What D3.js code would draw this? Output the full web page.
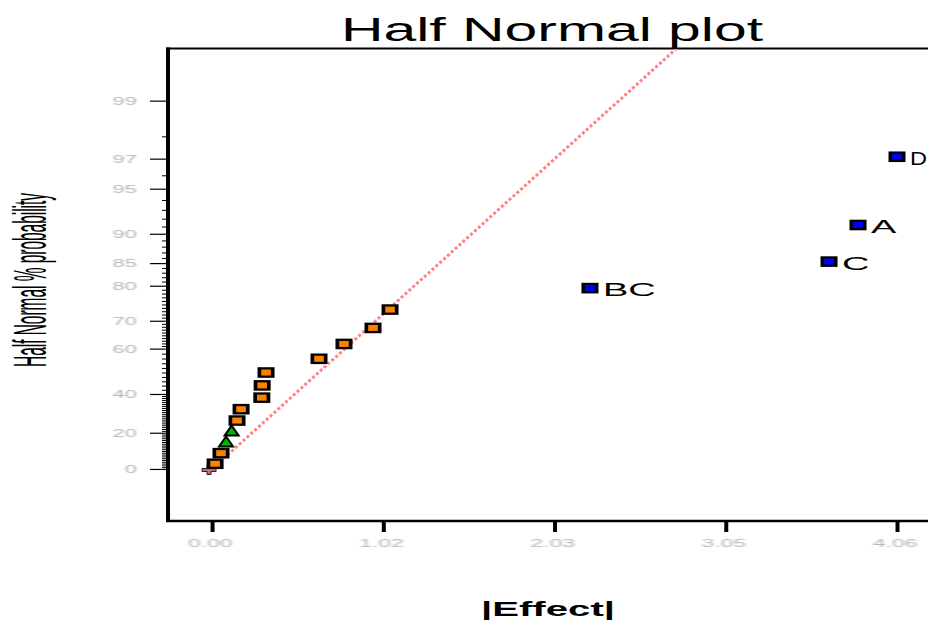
<!DOCTYPE html>
<html>
<head>
<meta charset="utf-8">
<script src="https://cdn.jsdelivr.net/npm/d3@7"></script>
<style>
  html, body { margin: 0; padding: 0; background: #fff; }
  svg { display: block; }
</style>
</head>
<body>
<script>
// Half-normal plot of effect magnitudes (ranked ascending)
const effects = [0.018, 0.053, 0.083, 0.116, 0.148, 0.172, 0.295, 0.297, 0.320, 0.634, 0.782, 0.954, 1.055, 2.240, 3.657, 3.829, 4.060];
const probabilities = [2.9, 8.8, 14.7, 20.6, 26.5, 32.4, 38.2, 44.1, 50.0, 55.9, 61.8, 67.6, 73.5, 79.4, 85.3, 91.2, 97.1];
const markerKinds = ["square", "square", "triangle", "triangle", "square", "square", "square", "square", "square",
                     "square", "square", "square", "square", "square", "square", "square", "square"];
const markerGroups = ["pos", "pos", "err", "err", "pos", "pos", "pos", "pos", "pos",
                      "pos", "pos", "pos", "pos", "neg", "neg", "neg", "neg"];
const effectLabels = ["", "", "", "", "", "", "", "", "", "", "", "", "", "BC", "C", "A", "D"];

// origin marker
const originEffect = [0];
const originProb = [0];

// reference line through the small effects
const lineEffect = [0, 2.76];
const lineProb = [0, 99.68];

// axes
const xTickValues = [0, 1.015, 2.03, 3.045, 4.06];
const xTickLabels = ["0.00", "1.02", "2.03", "3.05", "4.06"];
const yMajorProbs = [0, 20, 40, 60, 70, 80, 85, 90, 95, 97, 99];
const yMajorLabels = ["0", "20", "40", "60", "70", "80", "85", "90", "95", "97", "99"];
const yMinorProbs = [
  1,2,3,4,5,6,7,8,9,10,11,12,13,14,15,16,17,18,19,21,22,23,24,25,26,27,28,29,30,31,32,33,34,35,36,37,38,39,
  42,44,46,48,50,52,54,56,58,
  61,62,63,64,65,66,67,68,69,71,72,73,74,75,76,77,78,79,
  81,82,83,84,86,87,88,89,91,92,93,94,96,98
];

const groupColors = { pos: "#ff8000", neg: "#0000ff", err: "#00b400" };

// inverse standard normal CDF (Acklam)
function invNorm(p) {
  const a = [-3.969683028665376e+01, 2.209460984245205e+02, -2.759285104469687e+02, 1.383577518672690e+02, -3.066479806614716e+01, 2.506628277459239e+00];
  const b = [-5.447609879822406e+01, 1.615858368580409e+02, -1.556989798598866e+02, 6.680131188771972e+01, -1.328068155288572e+01];
  const c = [-7.784894002430293e-03, -3.223964580411365e-01, -2.400758277161838e+00, -2.549732539343734e+00, 4.374664141464968e+00, 2.938163982698783e+00];
  const d = [7.784695709041462e-03, 3.224671290700398e-01, 2.445134137142996e+00, 3.754408661907416e+00];
  const pl = 0.02425, ph = 1 - pl;
  let q, r;
  if (p < pl) {
    q = Math.sqrt(-2 * Math.log(p));
    return (((((c[0]*q+c[1])*q+c[2])*q+c[3])*q+c[4])*q+c[5]) / ((((d[0]*q+d[1])*q+d[2])*q+d[3])*q+1);
  }
  if (p <= ph) {
    q = p - 0.5; r = q * q;
    return (((((a[0]*r+a[1])*r+a[2])*r+a[3])*r+a[4])*r+a[5])*q / (((((b[0]*r+b[1])*r+b[2])*r+b[3])*r+b[4])*r+1);
  }
  q = Math.sqrt(-2 * Math.log(1 - p));
  return -(((((c[0]*q+c[1])*q+c[2])*q+c[3])*q+c[4])*q+c[5]) / ((((d[0]*q+d[1])*q+d[2])*q+d[3])*q+1);
}
// half-normal quantile of a percent probability
const hnz = pct => pct <= 0 ? 0 : invNorm(0.5 + pct / 200);

const W = 928, H = 621;
const svg = d3.select("body").append("svg").attr("width", W).attr("height", H)
  .style("font-family", "'Liberation Sans', Arial, sans-serif");

const defs = svg.append("defs");
defs.append("filter").attr("id", "soft").append("feGaussianBlur").attr("stdDeviation", 0.6);
defs.append("clipPath").attr("id", "plotClip").append("rect")
  .attr("x", 170).attr("y", 49).attr("width", 770).attr("height", 471);

const x = d3.scaleLinear().domain([-0.273, 4.303]).range([166, 938]);
const yz = d3.scaleLinear().domain([-0.357, 2.944]).range([520, 48]);
const y = pct => yz(hnz(pct));

// title
svg.append("text").attr("x", 552).attr("y", 41).attr("text-anchor", "middle")
  .attr("font-size", 34).attr("textLength", 422).attr("lengthAdjust", "spacingAndGlyphs")
  .attr("fill", "#000").text("Half Normal plot");

// y axis: minor ticks
const yMinorAxis = d3.axisLeft(yz).tickValues(yMinorProbs.map(hnz)).tickSize(4).tickFormat("");
const gMinor = svg.append("g").attr("transform", "translate(166,0)").call(yMinorAxis);
gMinor.select(".domain").remove();
gMinor.selectAll("line").attr("stroke", "#000").attr("stroke-width", 1);

// y axis: major ticks and labels
const yMajorAxis = d3.axisLeft(yz).tickValues(yMajorProbs.map(hnz)).tickSize(16)
  .tickFormat((d, i) => yMajorLabels[i]);
const gY = svg.append("g").attr("transform", "translate(166,0)").call(yMajorAxis);
gY.select(".domain").remove();
gY.selectAll("line").attr("stroke", "#000").attr("stroke-width", 1.2);
gY.selectAll("text")
  .attr("x", -29 / 2.2).attr("dy", "0.36em")
  .attr("transform", "scale(2.2,1)")
  .attr("font-size", 10).attr("fill", "#b4b4b4").attr("filter", "url(#soft)")
  .attr("font-family", "'Liberation Sans', Arial, sans-serif");

// x axis
const xAxis = d3.axisBottom(x).tickValues(xTickValues).tickSize(11)
  .tickFormat((d, i) => xTickLabels[i]);
const gX = svg.append("g").attr("transform", "translate(0,521)").call(xAxis);
gX.select(".domain").remove();
gX.selectAll("line").attr("stroke", "#000").attr("stroke-width", 4);
gX.selectAll("text")
  .attr("y", 26).attr("dy", null).attr("x", -1)
  .attr("transform", "scale(2.3,1)")
  .attr("font-size", 10).attr("fill", "#b4b4b4").attr("filter", "url(#soft)")
  .attr("font-family", "'Liberation Sans', Arial, sans-serif");

// plot frame
svg.append("line").attr("x1", 168).attr("x2", 168).attr("y1", 47.5).attr("y2", 522)
  .attr("stroke", "#000").attr("stroke-width", 4);
svg.append("line").attr("x1", 166).attr("x2", 940).attr("y1", 48.5).attr("y2", 48.5)
  .attr("stroke", "#000").attr("stroke-width", 2);
svg.append("line").attr("x1", 166).attr("x2", 940).attr("y1", 521).attr("y2", 521)
  .attr("stroke", "#000").attr("stroke-width", 2.4);

// reference line
const linePts = lineEffect.map((e, i) => [x(e), y(lineProb[i])]);
svg.append("path").attr("clip-path", "url(#plotClip)")
  .attr("d", d3.line()(linePts))
  .attr("fill", "none").attr("stroke", "#ff8585").attr("stroke-width", 3)
  .attr("stroke-dasharray", "3,2.2");

// origin marker (plus shape)
const plusPath = "M-7,-1.5 L-2,-1.5 L-2,-4.5 L2,-4.5 L2,-1.5 L7,-1.5 L7,1.5 L2,1.5 L2,4.5 L-2,4.5 L-2,1.5 L-7,1.5 Z";
svg.selectAll("path.origin").data(originEffect).enter().append("path")
  .attr("class", "origin")
  .attr("transform", (d, i) => `translate(${x(d) - 3},${y(originProb[i]) + 1})`)
  .attr("d", plusPath).attr("fill", "#c87070").attr("stroke", "#202020").attr("stroke-width", 1);

// effect markers
const pts = effects.map((e, i) => ({
  e, p: probabilities[i], kind: markerKinds[i], color: groupColors[markerGroups[i]], label: effectLabels[i]
}));
const gPts = svg.append("g");
pts.forEach(d => {
  const cx = x(d.e), cy = y(d.p);
  if (d.kind === "square") {
    gPts.append("rect").attr("x", cx - 8.5).attr("y", cy - 5.3).attr("width", 17).attr("height", 10.6)
      .attr("fill", "#000");
    gPts.append("rect").attr("x", cx - 4.8).attr("y", cy - 3).attr("width", 9.6).attr("height", 6)
      .attr("fill", d.color);
  } else {
    gPts.append("path")
      .attr("d", `M${cx - 7},${cy + 4} L${cx + 7},${cy + 4} L${cx},${cy - 6} Z`)
      .attr("fill", d.color).attr("stroke", "#000").attr("stroke-width", 2).attr("stroke-linejoin", "miter");
  }
  if (d.label) {
    // keep the rightmost label inside the canvas
    const lx = cx + 13;
    const sx = Math.min(2, (W - 1 - lx) / 13.7);
    svg.append("text")
      .attr("transform", `translate(${lx},${cy + 8}) scale(${sx},1)`)
      .attr("font-size", 19).attr("fill", "#000").text(d.label);
  }
});

// axis titles
svg.append("text").attr("x", 548).attr("y", 616).attr("text-anchor", "middle")
  .attr("font-size", 21).attr("font-weight", "bold")
  .attr("textLength", 134).attr("lengthAdjust", "spacingAndGlyphs")
  .text("|Effect|");

svg.append("text")
  .attr("transform", "translate(46,280) rotate(-90) scale(1,3)")
  .attr("text-anchor", "middle").attr("font-size", 15.4)
  .attr("textLength", 174).attr("lengthAdjust", "spacingAndGlyphs")
  .text("Half Normal % probability");
</script>
</body>
</html>
